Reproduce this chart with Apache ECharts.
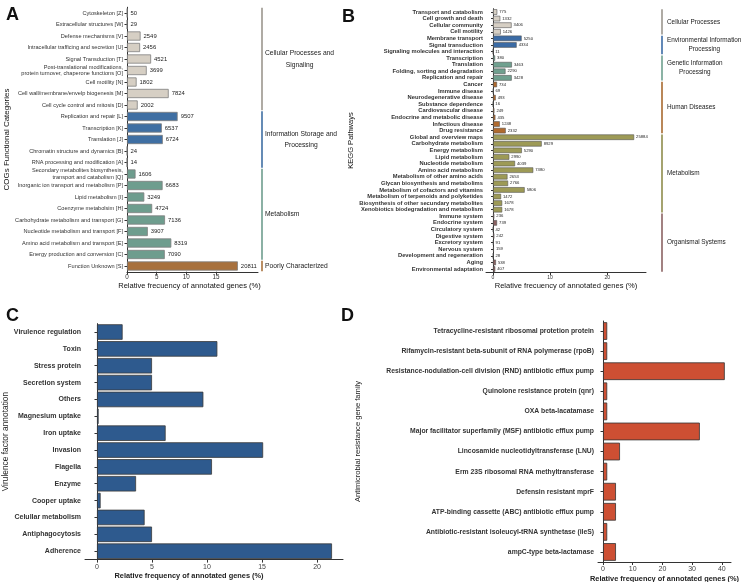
<!DOCTYPE html>
<html><head><meta charset="utf-8">
<script src="https://cdn.jsdelivr.net/npm/echarts@6/dist/echarts.min.js"></script>
<style>html,body{margin:0;padding:0;background:#fff}#c{width:741px;height:582px}</style>
</head><body><div id="c"></div>
<script>
// ---------- DATA ----------
const cogCategories = ['Cytoskeleton [Z]','Extracellular structures [W]','Defense mechanisms [V]','Intracellular trafficing and secretion [U]','Signal Transduction [T]','Post-translational modifications,\nprotein turnover, chaperone functions [O]','Cell motility [N]','Cell wall/membrane/envelp biogenesis [M]','Cell cycle control and mitosis [D]','Replication and repair [L]','Transcription [K]','Translation [J]','Chromatin structure and dynamics [B]','RNA processing and modification [A]','Secondary metabolites biosynthesis,\ntransport and catabolism [Q]','Inorganic ion transport and metabolism [P]','Lipid metabolism [I]','Coenzyme metabolsim [H]','Carbohydrate metabolism and transport [G]','Nucleotide metabolism and transport [F]','Amino acid metabolism and transport [E]','Energy production and conversion [C]','Function Unknown [S]'];
const cogCounts = [50,29,2549,2456,4521,3699,1802,7824,2002,9507,6537,6724,24,14,1606,6683,3249,4724,7136,3907,8319,7090,20811];
const cogGroupOf = [0,0,0,0,0,0,0,0,0,1,1,1,1,1,2,2,2,2,2,2,2,2,3];
const cogGroupNames = ['Cellular Processes and\nSignaling','Information Storage and\nProcessing','Metabolism','Poorly Characterized'];
const cogTicks = [0,5,10,15];

const keggCategories = ['Transport and catabolism','Cell growth and death','Cellular community','Cell motility','Membrane transport','Signal transduction','Signaling molecules and interaction','Transcription','Translation','Folding, sorting and degradation','Replication and repair','Cancer','Immune disease','Neurodegenerative disease','Substance dependence','Cardiovascular disease','Endocrine and metabolic disease','Infectious disease','Drug resistance','Global and overview maps','Carbohydrate metabolism','Energy metabolism','Lipid metabolism','Nucleotide metabolism','Amino acid metabolism','Metabolism of other amino acids','Glycan biosynthesis and metabolims','Metabolism of cofactors and vitamins','Metabolism of terpenoids and polyketides','Biosynthesis of other secundary metabolites','Xenobiotics biodegradation and metabolism','Immune system','Endocrine system','Circulatory system','Digestive system','Excretory system','Nervous system','Development and regeneration','Aging','Environmental adaptation'];
const keggCounts = [775,1332,3406,1426,5250,4334,11,380,3463,2290,3428,734,69,493,16,249,435,1248,2332,25884,8929,5290,2990,4039,7380,2653,2766,5806,1472,1678,1678,236,739,42,242,91,159,28,538,407];
const keggGroupOf = [0,0,0,0,1,1,1,2,2,2,2,3,3,3,3,3,3,3,3,4,4,4,4,4,4,4,4,4,4,4,4,5,5,5,5,5,5,5,5,5];
const keggGroupNames = ['Cellular Processes','Environmental Information\nProcessing','Genetic Information\nProcessing','Human Diseases','Metabolism','Organismal Systems'];
const keggTicks = [0,10,20];

const vfCategories = ['Virulence regulation','Toxin','Stress protein','Secretion system','Others','Magnesium uptake','Iron uptake','Invasion','Flagella','Enzyme','Cooper uptake','Celullar metabolism','Antiphagocytosis','Adherence'];
const vfValues = [2.33,10.94,5.0,5.0,9.67,0.15,6.24,15.1,10.45,3.55,0.33,4.33,5.0,21.36];
const vfTicks = [0,5,10,15,20];

const argCategories = ['Tetracycline-resistant ribosomal protetion protein','Rifamycin-resistant beta-subunit of RNA polymerase (rpoB)','Resistance-nodulation-cell division (RND) antibiotic efflux pump','Quinolone resistance protein (qnr)','OXA beta-lacatamase','Major facilitator superfamily (MSF) antibiotic efflux pump','Lincosamide nucleotidyltransferase (LNU)','Erm 23S ribosomal RNA methyltransferase','Defensin resistant mprF','ATP-binding cassette (ABC) antibiotic efflux pump','Antibiotic-resistant isoleucyl-tRNA synthetase (ileS)','ampC-type beta-lactamase'];
const argValues = [1.4,1.4,41.0,1.4,1.4,32.6,5.7,1.4,4.35,4.35,1.4,4.35];
const argTicks = [0,10,20,30,40];

// ---------- STYLE ----------
const mctx = document.createElement('canvas').getContext('2d');
function hasFont(name){
  const s='abcdefghijklmnopqrstuvwxyz0123456789';
  mctx.font='20px monospace'; const a=mctx.measureText(s).width;
  mctx.font="20px '"+name+"', monospace"; const b=mctx.measureText(s).width;
  return Math.abs(a-b)>0.5;
}
const HAS_NARROW = hasFont('Liberation Sans Narrow');
const NS = HAS_NARROW ? 1 : 0.84;   // shrink regular sans to mimic a condensed face
const NARROW = HAS_NARROW ? "'Liberation Sans Narrow',sans-serif" : "'Liberation Sans',Arial,sans-serif";
const SANS = "'Liberation Sans',Arial,sans-serif";
const cogBarColors = ['#d6cfc4','#3f6fa3','#6e9d8e','#a8713d'];
const cogBracketColors = ['#9b968e','#3f6fa3','#6e9d8e','#a8713d'];
const keggBarColors = ['#d6cfc4','#3b6ba5','#6fa08f','#b06a2e','#9d9a56','#8b6262'];
const keggBracketColors = ['#9b968e','#3b6ba5','#6fa08f','#a8692f','#8f8c4c','#8b6262'];

function textW(t, font){ mctx.font = font; return Math.max.apply(null, t.split('\n').map(l => mctx.measureText(l).width)); }
function runs(groupOf){ const r=[]; groupOf.forEach((g,i)=>{ if(!r.length||r[r.length-1].g!==g) r.push({g:g,start:i,end:i}); else r[r.length-1].end=i; }); return r; }
const sum = a => a.reduce((s,v)=>s+v,0);
const cogTotal = sum(cogCounts), keggTotal = sum(keggCounts);

function bracket(idx, groupOf, cfg){
  return {
    type:'custom', xAxisIndex:idx, yAxisIndex:idx, silent:true, clip:false, z:5,
    data: runs(groupOf).map(r => [0, r.start, r.end, r.g]),
    encode:{x:0, y:[1,2]},
    renderItem:function(params, api){
      const cs = params.coordSys;
      const band = api.size([0,1])[1];
      const yA = api.coord([0, api.value(1)])[1] - band/2 + 0.6;
      const yB = api.coord([0, api.value(2)])[1] + band/2 - 0.6;
      const x = cs.x + cs.width + cfg.offset;
      const gi = api.value(3);
      const txt = cfg.names[gi];
      const font = cfg.fontSize + 'px ' + cfg.family;
      const w = textW(txt, font);
      return {type:'group', children:[
        {type:'rect', shape:{x:x-cfg.lw/2, y:yA, width:cfg.lw, height:yB-yA}, style:{fill:cfg.colors[gi]}},
        {type:'text', style:{text:txt, x:x+cfg.gap+w/2, y:(yA+yB)/2, align:'center', verticalAlign:'middle', font:font, fill:'#222', lineHeight:cfg.lh}}
      ]};
    }
  };
}

const option = {
  animation:false,
  title:[
    {text:'A', left:1, top:1, textStyle:{fontSize:18, fontWeight:'bold', color:'#111', fontFamily:SANS}},
    {text:'B', left:337, top:3, textStyle:{fontSize:18, fontWeight:'bold', color:'#111', fontFamily:SANS}},
    {text:'C', left:1, top:302, textStyle:{fontSize:18, fontWeight:'bold', color:'#111', fontFamily:SANS}},
    {text:'D', left:336, top:302, textStyle:{fontSize:18, fontWeight:'bold', color:'#111', fontFamily:SANS}}
  ],
  grid:[
    {left:127, top:7.25, width:131, height:264.5, containLabel:false, outerBoundsMode:'none'},
    {left:486, top:8.7, width:160, height:263.6, containLabel:false, outerBoundsMode:'none'},
    {left:85, top:323.6, width:258, height:236, containLabel:false, outerBoundsMode:'none'},
    {left:598, top:321, width:133, height:241, containLabel:false, outerBoundsMode:'none'}
  ],
  xAxis:[
    {gridIndex:0, type:'value', min:0, max:22.1, splitLine:{show:false}, axisLine:{show:true, onZero:false, lineStyle:{color:'#333'}},
     axisTick:{show:true, length:3, customValues:cogTicks, lineStyle:{color:'#333'}},
     axisLabel:{customValues:cogTicks, fontSize:7.5*NS, color:'#333', margin:3, fontFamily:NARROW},
     name:'Relative frecuency of annotated genes (%)', nameLocation:'middle', nameGap:10,
     nameTextStyle:{fontSize:9*NS, color:'#111', fontFamily:NARROW, padding:[0,6,0,0]}},
    {gridIndex:1, type:'value', min:-1.23, max:26.8, splitLine:{show:false}, axisLine:{show:true, onZero:false, lineStyle:{color:'#333'}},
     axisTick:{show:true, length:3, customValues:keggTicks, lineStyle:{color:'#333'}},
     axisLabel:{customValues:keggTicks, fontSize:6*NS, color:'#333', margin:3, fontFamily:NARROW},
     name:'Relative frecuency of annotated genes (%)', nameLocation:'middle', nameGap:10,
     nameTextStyle:{fontSize:9*NS, color:'#111', fontFamily:NARROW}},
    {gridIndex:2, type:'value', min:-1.09, max:22.36, splitLine:{show:false}, axisLine:{show:true, onZero:false, lineStyle:{color:'#333'}},
     axisTick:{show:true, length:3, customValues:vfTicks, lineStyle:{color:'#333'}},
     axisLabel:{customValues:vfTicks, fontSize:7, color:'#444', margin:4, fontFamily:SANS},
     name:'Relative frequency of annotated genes (%)', nameLocation:'middle', nameGap:13,
     nameTextStyle:{fontSize:7.4, fontWeight:'bold', color:'#222', fontFamily:SANS, padding:[0,50,0,0]}},
    {gridIndex:3, type:'value', min:-1.7, max:43.1, splitLine:{show:false}, axisLine:{show:true, onZero:false, lineStyle:{color:'#333'}},
     axisTick:{show:true, length:3, customValues:argTicks, lineStyle:{color:'#333'}},
     axisLabel:{customValues:argTicks, fontSize:7, color:'#444', margin:4, fontFamily:SANS},
     name:'Relative frequency of annotated genes (%)', nameLocation:'middle', nameGap:13,
     nameTextStyle:{fontSize:7.4, fontWeight:'bold', color:'#222', fontFamily:SANS}}
  ],
  yAxis:[
    {gridIndex:0, type:'category', data:cogCategories, inverse:true, axisLine:{show:true, lineStyle:{color:'#333'}},
     axisTick:{show:true, alignWithLabel:true, length:2.5, lineStyle:{color:'#333'}},
     axisLabel:{fontSize:6.7*NS, lineHeight:6.7, color:'#333', margin:4, fontFamily:NARROW, interval:0},
     name:'COGs Functional Categories', nameLocation:'middle', nameRotate:90, nameGap:115,
     nameTextStyle:{fontSize:9.5*NS, color:'#111', fontFamily:NARROW}},
    {gridIndex:1, type:'category', data:keggCategories, inverse:true, axisLine:{show:true, lineStyle:{color:'#333'}},
     axisTick:{show:true, alignWithLabel:true, length:2, lineStyle:{color:'#333'}},
     axisLabel:{fontSize:5.8, fontWeight:'bold', color:'#333', margin:3, fontFamily:SANS, interval:0},
     name:'KEGG Pathways', nameLocation:'middle', nameRotate:90, nameGap:117,
     nameTextStyle:{fontSize:9*NS, color:'#111', fontFamily:NARROW}},
    {gridIndex:2, type:'category', data:vfCategories, inverse:true, axisLine:{show:true, lineStyle:{color:'#333'}},
     axisTick:{show:true, alignWithLabel:true, length:2.5, lineStyle:{color:'#333'}},
     axisLabel:{fontSize:7, fontWeight:'bold', color:'#333', margin:4, fontFamily:SANS, interval:0},
     name:'Virulence factor annotation', nameLocation:'middle', nameRotate:90, nameGap:72,
     nameTextStyle:{fontSize:8.4, color:'#222', fontFamily:SANS}},
    {gridIndex:3, type:'category', data:argCategories, inverse:true, axisLine:{show:true, lineStyle:{color:'#333'}},
     axisTick:{show:true, alignWithLabel:true, length:2.5, lineStyle:{color:'#333'}},
     axisLabel:{fontSize:6.8, fontWeight:'bold', color:'#333', margin:4, fontFamily:SANS, interval:0},
     name:'Antimicrobial resistance gene family', nameLocation:'middle', nameRotate:90, nameGap:236,
     nameTextStyle:{fontSize:7.6, color:'#222', fontFamily:SANS}}
  ],
  series:[
    {type:'bar', xAxisIndex:0, yAxisIndex:0, barWidth:'80%',
     data: cogCounts.map((c,i)=>({value:c/cogTotal*100, itemStyle:{color:cogBarColors[cogGroupOf[i]]}})),
     itemStyle:{borderColor:'#7d7d7d', borderWidth:0.8},
     label:{show:true, position:'right', distance:3, fontSize:7*NS, color:'#222', fontFamily:NARROW,
            formatter:p=>String(cogCounts[p.dataIndex])}},
    {type:'bar', xAxisIndex:1, yAxisIndex:1, barWidth:'84%',
     data: keggCounts.map((c,i)=>({value:c/keggTotal*100, itemStyle:{color:keggBarColors[keggGroupOf[i]]}})),
     itemStyle:{borderColor:'#555', borderWidth:0.6},
     label:{show:true, position:'right', distance:1, fontSize:5*NS, color:'#222', fontFamily:NARROW,
            backgroundColor:'#fff', padding:[0,1,0,1],
            formatter:p=>String(keggCounts[p.dataIndex])}},
    {type:'bar', xAxisIndex:2, yAxisIndex:2, barWidth:'92%', data:vfValues,
     itemStyle:{color:'#2e5a8e', borderColor:'#3a3a3a', borderWidth:0.8}},
    {type:'bar', xAxisIndex:3, yAxisIndex:3, barWidth:'88%', data:argValues,
     itemStyle:{color:'#cd4f33', borderColor:'#333', borderWidth:0.8}},
    bracket(0, cogGroupOf, {names:cogGroupNames, colors:cogBracketColors, offset:4, lw:1.6, gap:3, fontSize:8*NS, family:NARROW, lh:11.5}),
    bracket(1, keggGroupOf, {names:keggGroupNames, colors:keggBracketColors, offset:16, lw:1.6, gap:5, fontSize:7.6*NS, family:NARROW, lh:9})
  ]
};
const chart = echarts.init(document.getElementById('c'), null, {renderer:'canvas'});
chart.setOption(option);
</script>
</body></html>
